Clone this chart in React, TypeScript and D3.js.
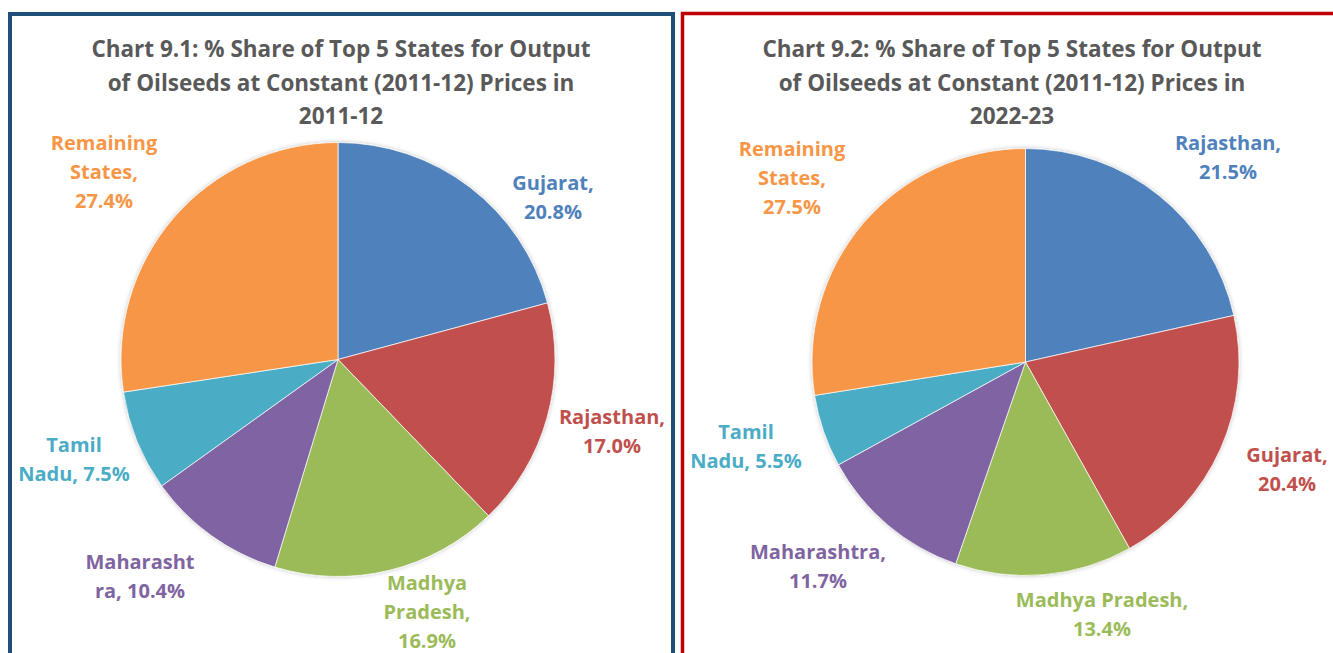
import React from "react";
import * as d3 from "d3";

const states2011 = ["Gujarat", "Rajasthan", "Madhya Pradesh", "Maharashtra", "Tamil Nadu", "Remaining States"];
const shares2011 = [20.8, 17.0, 16.9, 10.4, 7.5, 27.4];
const labels2011 = [
  ["Gujarat,", "20.8%"],
  ["Rajasthan,", "17.0%"],
  ["Madhya", "Pradesh,", "16.9%"],
  ["Maharasht", "ra, 10.4%"],
  ["Tamil", "Nadu, 7.5%"],
  ["Remaining", "States,", "27.4%"],
];

const states2022 = ["Rajasthan", "Gujarat", "Madhya Pradesh", "Maharashtra", "Tamil Nadu", "Remaining States"];
const shares2022 = [21.5, 20.4, 13.4, 11.7, 5.5, 27.5];
const labels2022 = [
  ["Rajasthan,", "21.5%"],
  ["Gujarat,", "20.4%"],
  ["Madhya Pradesh,", "13.4%"],
  ["Maharashtra,", "11.7%"],
  ["Tamil", "Nadu, 5.5%"],
  ["Remaining", "States,", "27.5%"],
];

const colors2011 = ["#4F81BD", "#C0504D", "#9BBB59", "#8064A2", "#4BACC6", "#F79646"];
const colors2022 = ["#4F81BD", "#C0504D", "#9BBB59", "#8064A2", "#4BACC6", "#F79646"];

const title2011 = ["Chart 9.1: % Share of Top 5 States for Output", "of Oilseeds at Constant (2011-12) Prices in", "2011-12"];
const title2022 = ["Chart 9.2: % Share of Top 5 States for Output", "of Oilseeds at Constant (2011-12) Prices in", "2022-23"];

const FONT = "'Open Sans', Lato, sans-serif";

type PieProps = {
  id: string;
  names: string[];
  values: number[];
  labels: string[][];
  colors: string[];
  title: string[];
  cx: number;
  cy: number;
  r: number;
  titleX: number;
  labelPos: [number, number][];
};

function Pie({ id, names, values, labels, colors, title, cx, cy, r, titleX, labelPos }: PieProps) {
  const pie = d3.pie<number>().sort(null).value((d) => d);
  const arcs = pie(values);
  const arc = d3.arc<d3.PieArcDatum<number>>().innerRadius(0).outerRadius(r);
  const lh = 29;
  return (
    <g>
      <text x={titleX} fontFamily={FONT} fontWeight={700} fontSize={22.5} fill="#595959" textAnchor="middle">
        {title.map((t, i) => (
          <tspan key={i} x={titleX} y={57 + i * 33.5}>
            {t}
          </tspan>
        ))}
      </text>
      <g transform={`translate(${cx},${cy})`} filter={`url(#shadow-${id})`}>
        {arcs.map((a, i) => (
          <path key={names[i]} d={arc(a) || ""} fill={colors[i]} stroke="#ffffff" strokeWidth={0.7} />
        ))}
      </g>
      {labels.map((lines, i) => {
        const [lx, ly] = labelPos[i];
        const top = ly - ((lines.length - 1) * lh) / 2;
        return (
          <text key={i} fontFamily={FONT} fontWeight={700} fontSize={20} fill={colors[i]} textAnchor="middle">
            {lines.map((t, j) => (
              <tspan key={j} x={lx} y={top + j * lh + 7}>
                {t}
              </tspan>
            ))}
          </text>
        );
      })}
    </g>
  );
}

export default function App() {
  return (
    <svg width={1333} height={653} style={{ position: "absolute", left: 0, top: 0, background: "#fff" }}>
      <defs>
        {["a", "b"].map((k) => (
          <filter key={k} id={`shadow-${k}`} x="-10%" y="-10%" width="120%" height="120%">
            <feDropShadow dx="0" dy="0" stdDeviation="2" floodColor="#000" floodOpacity="0.25" />
          </filter>
        ))}
      </defs>
      <rect x={0} y={0} width={1333} height={653} fill="#fff" />
      <path d="M10,660 V14 H673 V660" fill="none" stroke="#1F4E79" strokeWidth={4} />
      <path d="M682.5,660 V13.5 H1340" fill="none" stroke="#C00000" strokeWidth={3.5} />
      <Pie
        id="a"
        names={states2011}
        values={shares2011}
        labels={labels2011}
        colors={colors2011}
        title={title2011}
        cx={338}
        cy={359.5}
        r={217}
        titleX={341}
        labelPos={[
          [553, 197.5],
          [612, 431],
          [427, 612],
          [140, 576.5],
          [74, 459],
          [104, 172],
        ]}
      />
      <Pie
        id="b"
        names={states2022}
        values={shares2022}
        labels={labels2022}
        colors={colors2022}
        title={title2022}
        cx={1025.5}
        cy={362}
        r={213.5}
        titleX={1012}
        labelPos={[
          [1228, 157],
          [1287, 469.5],
          [1102, 614.5],
          [818, 566.5],
          [746, 446.5],
          [792, 178],
        ]}
      />
    </svg>
  );
}
